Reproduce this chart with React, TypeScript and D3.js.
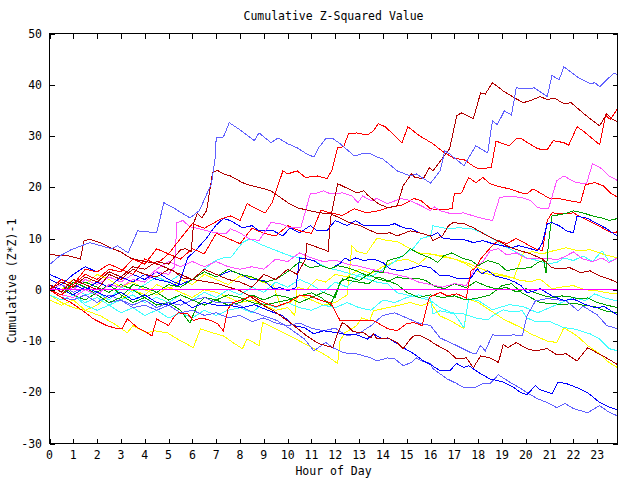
import React from 'react';
import * as d3 from 'd3';

type Pt = [number, number];

const title = 'Cumulative Z-Squared Value';
const xTitle = 'Hour of Day';
const yTitle = 'Cumulative (Z*Z)-1';
const xTicks = [0, 1, 2, 3, 4, 5, 6, 7, 8, 9, 10, 11, 12, 13, 14, 15, 16, 17, 18, 19, 20, 21, 22, 23];
const yTicks = [-30, -20, -10, 0, 10, 20, 30, 40, 50];
const xDomain: [number, number] = [0, 23.85];
const yDomain: [number, number] = [-30, 50];

// series: [hour, cumulative value]
const lightBlueTop: Pt[] = [[0,4.9],[0.4,6.5],[0.9,7.8],[1.7,9.2],[2.6,8.0],[2.85,8.6],[3.3,7.2],[3.7,11.5],[4.5,11.1],[4.8,17.0],[5.2,16],[5.9,14.0],[6.3,15.5],[6.8,20.7],[6.95,25.5],[7.0,29.6],[7.3,29.8],[7.55,32.6],[8.0,31.2],[8.6,29.1],[8.8,30.6],[9.3,28.7],[9.6,29.6],[10.0,28.5],[10.4,27.7],[10.8,26.5],[11.1,25.9],[11.3,27.7],[11.6,29.5],[11.9,29.5],[12.2,28.5],[12.8,26.1],[13.1,26.5],[13.5,26.5],[13.8,25.8],[14.0,25.5],[14.6,23.2],[15.15,22.2],[15.4,22.6],[16.0,20.8],[16.4,23.2],[16.6,27.1],[16.8,26.5],[17.4,24.2],[17.9,28.1],[18.4,26.7],[18.6,33.0],[18.8,32.2],[19.1,34.9],[19.4,34.1],[19.6,39.4],[20.05,39.2],[20.35,39.4],[20.9,37.7],[21.1,41.8],[21.4,41.0],[21.6,43.5],[22.2,41.4],[22.7,40.2],[22.9,40.4],[23.1,39.6],[23.7,42.3],[23.85,42]];
const darkRedTop: Pt[] = [[0,1],[0.5,-0.5],[1,2],[1.5,1],[2,0],[2.5,3],[3,2],[3.5,4],[4,3],[4.5,2.5],[5,4],[5.5,3],[6,2],[6.5,4],[7,3],[7.5,2],[8,1.5],[8.5,0.5],[9,3],[9.5,2],[10,4],[10.4,3],[10.75,6],[10.8,9],[11.3,8.2],[11.7,7.5],[11.8,14],[12.1,20.7],[12.9,18.9],[13.2,19.3],[13.35,18.5],[13.8,16.8],[14.2,16],[14.6,16.4],[14.85,20.3],[15.2,22.6],[15.35,21.9],[15.7,21.7],[15.95,23.8],[16.1,23.2],[16.8,27.5],[17.1,34],[17.3,34.5],[17.8,33.4],[18.1,38.4],[18.3,38.2],[18.6,40.4],[19.05,38.8],[19.5,37.5],[19.9,36.5],[20.3,37.1],[20.6,37.7],[20.9,37.1],[21.2,37.4],[21.6,36.3],[21.9,36.5],[22.4,34.5],[22.8,33.0],[23.1,32.0],[23.4,34.3],[23.6,33.4],[23.85,32.8]];
const redTop: Pt[] = [[0,0],[0.5,-1],[1,1],[1.5,3],[2,2],[2.5,4],[3,3.5],[3.5,6],[4,5],[4.5,8],[5,7],[5.5,10],[6,12.9],[6.5,12],[7.2,13.8],[7.6,14.4],[8.0,13.5],[8.3,16.8],[8.6,16.0],[9.06,15.0],[9.35,17.0],[9.8,23.2],[10.0,22.6],[10.4,23.2],[10.75,21.9],[11.25,22.2],[11.65,21.7],[11.85,23.2],[12.1,27.7],[12.35,27.9],[12.55,30.4],[12.9,30.6],[13.35,30.2],[13.6,31],[13.8,32.4],[14.1,31.8],[14.8,28.7],[15.05,31.8],[15.55,30.0],[16.1,28.5],[16.5,27],[17.0,25.6],[17.4,25.4],[17.9,23.8],[18.2,23.6],[18.55,23.9],[18.75,29.0],[19.3,28.1],[19.6,29.5],[19.8,29.5],[20.5,27.5],[20.9,27.3],[21.15,29.1],[21.6,28.7],[21.8,28.2],[22.15,31.8],[22.4,31.0],[23.1,28.3],[23.35,34.1],[23.55,33.2],[23.85,35.3]];
const darkRedJump: Pt[] = [[0,0],[0.5,1.5],[1,0.5],[1.5,2.5],[2,1.5],[2.5,3.5],[3,2.5],[3.5,4.5],[4,4],[4.5,5.5],[5,5],[5.5,7.8],[5.7,8.0],[5.95,7.5],[6.05,12.9],[6.2,14.9],[6.4,14.0],[6.6,15.5],[6.85,22.9],[7.05,23.3],[7.3,22.6],[7.6,22.2],[8.1,20.9],[8.4,20.4],[9.0,19.7],[9.3,19.3],[10.0,17.0],[10.4,16.0],[10.95,15.4],[11.4,15.0],[11.8,14.8],[12.2,14.0],[12.6,13.1],[13.05,12.5],[13.5,11.5],[13.8,10.9],[14.3,11.1],[14.6,10.5],[15.15,11.5],[15.55,11.1],[16.0,10.5],[16.1,9.6],[16.5,10.5],[16.75,12.5],[16.95,13.1],[17.4,12.9],[17.8,12.1],[18.4,10.5],[18.8,9.6],[19.2,8.6],[19.5,8.0],[20.2,7.0],[20.7,6.0],[21.1,4.3],[21.45,4.1],[21.85,4.3],[22.3,3.3],[22.7,3.7],[23.1,2.7],[23.5,2.1],[23.85,1.4]];
const magentaTop: Pt[] = [[0,0],[0.5,-1],[1,-1.5],[1.5,0],[2,-1],[2.5,1],[3,0.5],[3.5,2],[4,1.5],[4.5,3.5],[5,3],[5.25,4.5],[5.35,13.1],[5.6,13.5],[5.9,12.3],[6.2,12.0],[6.6,11.5],[7.0,11.1],[7.4,10.9],[7.6,11.9],[8.0,11.1],[8.4,9.9],[8.8,9.6],[9.3,13.1],[9.7,12.9],[10.1,12.1],[10.55,12.1],[10.95,18.7],[11.25,18.9],[11.5,19.3],[11.8,18.7],[12.3,18.9],[12.7,18.3],[12.95,17.0],[13.15,18.3],[13.5,17.4],[13.75,17.8],[14.2,16.8],[14.75,17.8],[15.15,17.4],[15.6,16.4],[16.0,15.4],[16.15,16.2],[16.4,15.4],[16.9,14.8],[17.4,15.0],[17.8,14.4],[18.2,13.9],[18.6,13.5],[18.9,18.0],[19.3,18.3],[19.8,18.0],[20.2,17.4],[20.5,16.0],[20.95,15.8],[21.3,21.3],[21.6,22.2],[22.1,20.9],[22.55,20.7],[22.8,24.6],[23.2,23.6],[23.5,22.2],[23.85,21.3]];
const redMid: Pt[] = [[0,0],[0.5,2],[1,1],[1.5,4],[2,3.5],[2.5,5],[3,4],[3.5,3],[4,6],[4.5,5],[5,7],[5.5,6],[6,8],[6.5,7],[7,11],[7.5,10],[8,9],[8.5,12],[9,11],[9.5,10.5],[10,12.5],[10.5,11.5],[11,11],[11.4,15.5],[11.8,15],[12.3,14.5],[12.8,15.8],[13.3,15],[13.8,15.4],[14.2,16],[14.8,16.5],[15.3,17.8],[15.6,17.4],[16.0,15.8],[16.4,15.6],[16.9,15.8],[17.0,18.7],[17.3,18.9],[17.6,21.9],[17.9,20.9],[18.2,21.9],[18.5,20.7],[18.9,20.1],[19.3,19.7],[19.8,18.9],[20.05,18.7],[20.3,19.7],[20.6,18.9],[21.0,17.8],[21.4,17.8],[21.8,17.4],[22.3,17.0],[22.5,20.5],[22.7,20.7],[22.9,20.9],[23.25,20.3],[23.6,18.7],[23.85,18.1]];
const greenTop: Pt[] = [[0,0],[0.5,-1],[1,1.5],[1.5,0.5],[2,-1],[2.5,-2.5],[3,-1.5],[3.5,1],[4,0.5],[4.5,-0.5],[5,1],[5.5,0.5],[6,2],[6.5,3.5],[7,2.5],[7.5,4],[8,3],[8.5,2.5],[9,1.5],[9.5,2],[10,3.5],[10.5,5.5],[10.95,4.3],[11.4,4.7],[11.8,4.1],[12.1,4.7],[12.5,4.3],[12.9,3.7],[13.35,2.7],[13.6,3.7],[14.0,3.3],[14.2,5.7],[14.6,6.2],[14.85,6.6],[15.15,8.0],[15.55,7.0],[16.0,6.2],[16.3,5.3],[16.55,6.6],[16.9,7.2],[17.3,6.2],[17.7,5.7],[18.0,4.7],[18.4,5.7],[18.85,5.1],[19.2,3.7],[19.6,4.1],[20.2,4.3],[20.5,5.3],[20.75,5.7],[20.85,3.3],[20.95,9.0],[21.1,14.4],[21.6,14.8],[22.0,15.4],[22.4,15.0],[22.8,14.4],[23.2,14.0],[23.5,13.5],[23.85,13.9]];
const redLow: Pt[] = [[0,0],[0.5,-1.5],[0.9,-2.5],[1.4,-4.1],[1.85,-5.7],[2.4,-7.0],[2.85,-7.6],[3.05,-7.6],[3.27,-5.7],[3.7,-7.4],[4.1,-8.4],[4.3,-9.0],[4.5,-5.7],[5.0,-7.0],[5.2,-5.5],[5.4,-4.5],[5.8,-4.7],[6.05,-6.0],[6.4,-5.5],[6.76,-6.0],[7.05,-6.6],[7.3,-8.0],[7.5,-3.7],[7.7,-2.5],[8.0,-2.1],[8.5,-1.2],[9.0,-2.5],[9.5,-3.3],[10.0,-2.5],[10.5,-1.2],[10.95,-1.2],[11.4,-2.1],[11.8,-2.5],[12.2,-6.0],[12.5,-6.0],[13.0,-6.0],[13.6,-6.0],[14.2,-7.6],[14.6,-8.0],[15.0,-6.6],[15.3,-6.4],[15.65,-7.0],[15.8,-4.1],[15.95,-1.5],[16.4,-0.5],[16.7,-1.2],[17.1,-0.8],[17.5,-1.6],[17.7,3.7],[17.9,4.3],[18.1,6.0],[18.4,7.6],[18.6,8.6],[18.85,9.6],[19.2,9.0],[19.6,10.0],[20.0,9.0],[20.4,8.0],[20.7,7.6],[20.9,13.5],[21.1,15.0],[21.6,14.8],[22.0,15.0],[22.3,14.2],[22.8,13.1],[23.2,12.1],[23.6,11.1],[23.85,11.3]];
const blueMid: Pt[] = [[0,3],[0.5,2],[1,1],[1.5,0],[2,1.5],[2.5,0.5],[3,2.5],[3.5,1.5],[4,3],[4.5,2],[5,1.5],[5.4,0.7],[5.8,6.2],[6.2,8],[6.6,10.1],[6.97,12.5],[7.3,13.9],[7.6,13.5],[8.1,12.1],[8.5,12.5],[8.8,11.5],[9.4,11.5],[9.8,10.5],[10.1,12.1],[10.5,11.1],[10.95,12.5],[11.25,11.5],[11.65,11.5],[12.0,13.5],[12.5,12.5],[12.85,13.5],[13.2,12.5],[13.6,12.5],[14.2,12.5],[14.5,12.9],[14.85,12.1],[15.2,11.9],[15.55,11.1],[16.0,10.5],[16.3,11.1],[16.5,10.1],[17.0,9.8],[17.4,9.8],[17.8,9.2],[18.2,9.6],[18.6,9.0],[19.0,8.6],[19.4,8.2],[19.7,8.6],[20.2,8.0],[20.5,7.6],[20.7,9.2],[20.9,12.9],[21.1,13.1],[21.4,12.5],[21.7,11.5],[22.0,11.1],[22.15,14.4],[22.6,13.9],[23.0,12.9],[23.4,11.9],[23.7,10.9],[23.85,10.5]];
const blueZero: Pt[] = [[0,2],[0.5,1],[1,3],[1.5,4.5],[2,3.5],[2.5,5],[3,4],[3.5,3],[4,2],[4.5,3.5],[5,2],[5.5,1],[6,2],[6.5,3.5],[7,2.5],[7.6,3.7],[8.0,3.1],[8.4,2.1],[9.0,1.8],[9.4,0.2],[9.7,0.4],[10.0,-0.2],[10.35,0.4],[10.5,6.2],[10.8,6.0],[11.1,5.7],[11.4,4.7],[11.8,4.1],[12.2,5.1],[12.4,6.2],[12.6,5.7],[12.85,6.2],[13.2,5.7],[13.6,6.0],[14.0,5.3],[14.3,4.1],[14.7,3.7],[15.15,4.1],[15.55,4.7],[16.0,4.3],[16.4,2.7],[16.8,2.7],[17.2,2.1],[17.7,2.3],[17.96,4.1],[18.15,3.1],[18.4,3.7],[18.7,2.7],[19.2,2.1],[19.5,1.6],[19.8,0.8],[20.05,-0.6],[20.4,-0.2],[20.6,0.2],[21.1,-1.2],[21.6,-2.1],[22.0,-1.8],[22.4,-2.7],[22.9,-3.5],[23.3,-3.3],[23.85,-4.9]];
const lightBlueLow: Pt[] = [[0,0],[0.5,-1.5],[1,-2],[1.5,-1],[2,-2.5],[2.5,-1],[3,-2],[3.5,-3],[4,-2],[4.5,-3.5],[5,-2.5],[5.5,-3],[6,-2],[6.5,-1.5],[7,-2.5],[7.6,-2.5],[8.0,-3.1],[8.4,-4.1],[9.0,-5.1],[9.55,-6.0],[10.1,-7.6],[10.7,-9.6],[11.1,-11.9],[11.6,-10.3],[11.9,-11.3],[12.35,-12.3],[12.9,-12.5],[13.5,-13.3],[13.75,-13.9],[14.2,-13.3],[14.5,-13.5],[14.85,-14.8],[15.2,-14.2],[15.4,-13.3],[15.65,-13.9],[16.0,-14.4],[16.1,-15.4],[16.7,-17.4],[17.1,-18.3],[17.4,-19.1],[17.85,-19.1],[18.2,-18.3],[18.5,-18.3],[18.85,-16.6],[19.35,-18.1],[19.8,-19.3],[20.05,-20.1],[20.5,-21.3],[20.9,-22.0],[21.3,-23.0],[21.65,-22.2],[22.0,-23.2],[22.6,-24.0],[23.1,-22.6],[23.4,-23.6],[23.65,-24.2],[23.85,-24.6]];
const blueLow: Pt[] = [[0,1],[0.5,0],[1,-1],[1.5,0.5],[2,-0.5],[2.5,-1.5],[3,-0.5],[3.5,-2],[4,-1],[4.5,-2.5],[5,-3],[5.5,-2],[6,-3.5],[6.5,-2.5],[7,-3],[7.6,-3.1],[8.1,-3.5],[8.6,-2.9],[9.0,-3.7],[9.8,-5.1],[10.25,-7.0],[10.7,-7.4],[11.1,-8.6],[11.5,-8.0],[12.1,-8.4],[12.5,-8.8],[12.9,-8.8],[13.35,-9.6],[13.6,-8.6],[13.9,-9.4],[14.3,-9.6],[14.85,-11.3],[15.3,-12.5],[15.7,-13.9],[16.0,-14.6],[16.4,-15.8],[16.8,-15.8],[17.1,-14.4],[17.4,-15.2],[17.6,-14.8],[18.1,-16.4],[18.5,-17.4],[19.05,-18.0],[19.5,-19.1],[19.8,-20.1],[20.05,-20.5],[20.4,-18.7],[20.6,-19.5],[21.1,-20.3],[21.35,-18.0],[21.7,-18.3],[22.15,-19.1],[22.6,-20.1],[23.1,-22.0],[23.55,-23.0],[23.85,-23.4]];
const yellowLow: Pt[] = [[0,-1],[0.5,-2.5],[1,-3.5],[1.5,-4],[2.14,-5.1],[2.7,-6.6],[3.27,-8.4],[3.5,-7],[4.1,-8.4],[4.4,-8.0],[4.95,-8.4],[5.37,-9.6],[6.04,-11.3],[6.34,-7.6],[6.7,-8.2],[7.3,-9.0],[7.7,-10.3],[8.1,-11.5],[8.3,-9.6],[8.8,-10.9],[8.95,-6.4],[9.5,-7.6],[10.1,-9.0],[10.7,-10.5],[11.1,-11.5],[11.65,-12.9],[12.1,-14.4],[12.2,-10.0],[12.4,-8.4],[12.9,-7.0],[13.1,-5.5],[13.45,-6.0],[13.6,-4.1],[14.2,-3.5],[14.6,-3.1],[15.15,-2.5],[15.6,-3.1],[16.0,-2.5],[16.4,-5.1],[16.9,-6.2],[17.4,-7.6],[17.6,-1.8],[18.0,-2.5],[18.4,-3.7],[19.05,-5.7],[19.8,-7.4],[20.2,-8.6],[20.9,-10.0],[21.3,-10.3],[21.6,-7.4],[22.15,-9.0],[22.6,-10.9],[23.1,-12.5],[23.4,-13.9],[23.85,-15.2]];
const darkRedLow: Pt[] = [[0,7],[0.4,6.6],[0.8,6.6],[1.3,6.0],[1.45,9.6],[1.7,9.8],[2.14,9.2],[2.56,8.2],[2.98,7.4],[3.4,6.2],[3.8,5.7],[4.5,5.1],[5.2,3.7],[5.6,2.3],[6.3,1.8],[7.05,1.2],[7.6,0.4],[8.0,-0.2],[8.4,-1.2],[9.0,-3.1],[9.4,-4.1],[10.1,-6.4],[10.8,-9.0],[11.3,-10.5],[11.9,-11.3],[12.1,-8.4],[12.3,-6.4],[12.5,-7.0],[12.75,-8.2],[13.2,-8.4],[13.5,-9.4],[13.6,-8.6],[13.75,-9.6],[14.2,-9.4],[14.6,-10.3],[14.85,-11.5],[15.15,-9.6],[15.3,-9.0],[15.6,-9.0],[16.0,-10.0],[16.1,-10.4],[16.7,-11.9],[17.1,-13.5],[17.5,-13.3],[17.8,-15.2],[18.1,-12.9],[18.5,-13.3],[18.85,-14.2],[19.05,-10.7],[19.25,-11.3],[19.6,-10.3],[20.05,-11.5],[20.4,-11.9],[20.9,-11.5],[21.3,-12.7],[21.7,-12.5],[22.15,-13.9],[22.6,-11.3],[23.1,-12.6],[23.5,-13.6],[23.85,-14.6]];
const cyanLow: Pt[] = [[0,0],[0.5,1.5],[1,0.5],[1.5,-1],[2,-0.5],[2.5,-2],[3,0.5],[3.5,-0.5],[4,1],[4.5,2.5],[5,1.5],[5.5,3],[6,2],[6.5,4],[6.97,5.7],[7.3,6.2],[7.6,6.2],[8.1,9.2],[8.4,9.9],[9.0,8.6],[9.55,7.6],[10.1,6.6],[10.6,6.2],[11.1,5.7],[11.65,4.3],[12.2,3.7],[12.8,2.9],[13.35,2.1],[13.8,1.4],[14.2,1.2],[14.6,-0.6],[15.0,-1.0],[15.5,-1.5],[16.0,-2.1],[16.4,-3.5],[16.9,-4.5],[17.4,-4.7],[17.9,-5.5],[18.4,-5.9],[18.6,-5.1],[19.05,-3.9],[19.4,-4.3],[19.85,-4.1],[20.05,-5.5],[20.4,-6.2],[21.0,-6.2],[21.6,-7.4],[22.0,-7.6],[22.7,-8.6],[23.1,-9.6],[23.5,-11.5],[23.85,-11.9]];
const cyanTop: Pt[] = [[0,1],[0.5,0],[1,-1],[1.5,-2.5],[2,-1.5],[2.5,-3],[3,-2],[3.5,-1],[4,-2.5],[4.5,-1.5],[5,-2.5],[5.5,-1],[6,-2],[6.5,-0.5],[7,-1.5],[7.5,0],[8,-1],[8.5,0.5],[9,-0.5],[9.5,1.5],[10,0.5],[10.5,2],[11,1],[11.5,-0.5],[12,1.5],[12.5,0.5],[13,3],[13.5,2.5],[14,4],[14.5,5.5],[15.0,7.2],[15.3,8.2],[15.6,10.0],[16.0,10.5],[16.1,12.5],[16.7,11.9],[17.2,12.1],[17.7,11.9],[18.2,11.1],[18.6,10.0],[19.05,8.6],[19.5,7.6],[20.05,6.2],[20.5,5.7],[20.9,5.1],[21.3,5.3],[21.6,6.2],[22.0,5.7],[22.4,6.6],[22.8,5.5],[23.2,7.6],[23.5,5.5],[23.85,6.2]];
const cyanZero: Pt[] = [[0,-1],[0.5,-2],[1,-1],[1.5,-3],[2,-4],[2.5,-3],[3,-4.5],[3.5,-3.5],[4,-5],[4.5,-4],[5,-5.5],[5.5,-4.5],[6,-5.5],[6.5,-4],[7,-5],[7.5,-4],[8,-3.5],[8.5,-4.5],[9,-2.5],[9.5,-3.5],[10,-2.5],[10.5,-3.5],[11,-4],[11.5,-3],[12,-3.5],[12.5,-2.5],[13,-3.5],[13.5,-4],[14,-2],[14.5,-2.5],[15,-1.5],[15.5,-1],[16.0,-1.8],[16.1,-4.7],[16.4,-4.1],[17.0,-4.7],[17.4,-7.4],[17.6,-1.8],[18.0,-2.1],[18.6,-3.9],[19.3,-2.9],[19.9,-3.3],[20.5,-4.5],[21.0,-3.5],[21.5,-2.5],[22.0,-1.5],[22.5,-2.1],[22.9,-0.8],[23.3,-1.6],[23.85,-2.2]];
const lightBlueMid: Pt[] = [[0,2],[0.5,1],[1,-0.5],[1.5,0.5],[2,-1],[2.5,-2.5],[3,-2],[3.5,-3.5],[4,-3],[4.5,-4],[5,-3],[5.5,-4.5],[6,-4],[6.5,-5],[7,-4.5],[7.5,-5.5],[8,-5],[8.5,-6.2],[9,-5.5],[9.5,-6.5],[10,-7],[10.5,-6.5],[11,-7.5],[11.5,-8],[12,-7.5],[12.5,-9],[13,-8.5],[13.5,-7],[14,-5],[14.5,-4.5],[15,-5.5],[15.5,-6.5],[16.0,-7.0],[16.4,-9.4],[17.1,-10.9],[17.7,-12.3],[17.9,-12.5],[18.1,-10.9],[18.3,-11.9],[18.6,-8.8],[19.0,-9.0],[19.5,-8.8],[19.85,-9.0],[20.05,-5.1],[20.4,-2.2],[20.9,-1.7],[21.7,-2.2],[22.2,-4.1],[22.4,-3.2],[23.0,-4.9],[23.4,-7.0],[23.85,-7.6]];
const yellowTop: Pt[] = [[0,-2],[0.5,-3],[1,-2],[1.5,-4],[2,-3],[2.5,-1],[3,-2],[3.5,0],[4,-1],[4.5,1],[5,0],[5.5,2],[6,1],[6.5,3],[7,2],[7.5,1],[8,2.7],[8.5,2.4],[9.0,1.4],[9.4,0.8],[9.7,-3],[10.1,-2.5],[10.5,-1],[11,-2],[11.5,-3],[12,-2.5],[12.5,-1],[12.7,8.6],[12.9,7.5],[13.3,7.0],[13.75,10.1],[14.2,9.6],[14.6,9.4],[15.15,8.0],[15.5,7.2],[16.0,7.0],[16.5,6.4],[17.0,6.0],[17.5,5.0],[18.0,3.5],[18.5,3.0],[19.0,2.7],[19.5,2.3],[19.9,7.2],[20.3,7.4],[20.7,7.0],[21.15,7.6],[21.7,8.2],[22.2,7.6],[22.7,7.8],[23.2,7.0],[23.85,6.2]];
const yellowZero: Pt[] = [[0,1],[0.5,0],[1,2],[1.5,1],[2,3],[2.5,2],[3,0.5],[3.5,1.5],[4,0],[4.5,-1],[5,0.5],[5.5,-0.5],[6,-1.5],[6.5,0],[7,-0.5],[7.5,-1.5],[8,-2.5],[8.5,-2],[9,-3],[9.5,-4],[10,-3.5],[10.3,-5],[10.4,0.5],[10.8,0],[11.2,2],[11.6,1.5],[12,3],[12.5,2.5],[13,4],[13.5,3.2],[14,4.5],[14.5,5.5],[15,6],[15.5,5],[16.0,7.0],[16.5,6.6],[17.0,6.0],[17.5,5.3],[18.0,4.3],[18.6,3.3],[19.2,2.7],[19.8,1.8],[20.2,1.6],[20.6,2.1],[21.1,0.2],[21.6,0.6],[22.0,0.8],[22.5,0.0],[23.0,-0.2],[23.4,-0.6],[23.85,-0.8]];
const greenLow: Pt[] = [[0,0],[0.5,1],[1,-1],[1.5,-2],[2,-0.5],[2.5,1],[3,-1],[3.5,-2.5],[4,-1.5],[4.5,-3],[5,-2.5],[5.5,-4],[5.9,-6.5],[6.2,-3],[6.5,-1.5],[7,-2],[7.5,-1],[8,-1.5],[8.5,-2.5],[9,-3],[9.5,-2.5],[10,-2],[10.5,-1.2],[11,-0.6],[11.4,-1.5],[11.8,-3.0],[12.0,-0.8],[12.3,2.1],[12.8,1.6],[13.4,1.2],[13.8,2.5],[14.2,1.8],[14.6,1.0],[15.0,-0.5],[15.5,-1.5],[16.0,-1.0],[16.5,-1.5],[17.0,-1.2],[17.5,-2.0],[18.0,-1.6],[18.5,-1.0],[19.0,0.8],[19.4,1.2],[19.8,-0.5],[20.2,-1.5],[20.6,-2.5],[21.1,-2.7],[21.6,-2.9],[22.0,-2.6],[22.4,-3.0],[22.9,-3.3],[23.3,-4.1],[23.85,-4.5]];
const greenZero: Pt[] = [[0,0],[0.5,-1],[1,0.5],[1.5,1.5],[2,0.5],[2.5,-0.5],[3,1],[3.5,0],[4,-1.5],[4.5,-0.5],[5,-2],[5.5,-1],[6,-2],[6.5,-3],[7,-2],[7.5,-3],[8,-2.5],[8.5,-1],[9,-2],[9.5,-1],[10,-1.5],[10.5,-2.5],[11,-1.5],[11.5,-0.5],[12,-1.5],[12.2,1.5],[12.6,2.5],[13.0,1.8],[13.4,3.0],[13.8,2.1],[14.2,1.6],[14.6,2.5],[15.0,2.1],[15.4,2.3],[15.8,1.8],[16.2,0.6],[16.6,0.2],[17.0,1.2],[17.5,0.4],[17.9,1.6],[18.3,0.8],[18.7,0.2],[19.2,0.4],[19.6,-0.4],[20.0,0.2],[20.4,-0.6],[20.8,-1.2],[21.1,-1.5],[21.5,-1.2],[21.9,-1.4],[22.2,-1.8],[22.6,-1.6],[23.0,-2.5],[23.4,-3.0],[23.85,-3.5]];
const magentaLow: Pt[] = [[0,0],[0.5,1],[1,0],[1.5,2],[2,1],[2.5,2.5],[3,1.5],[3.5,3],[4,2],[4.5,4],[5,5.5],[5.5,4.5],[6,5.5],[6.5,4.5],[7,5.5],[7.5,4.5],[8,4],[8.5,4.5],[9,4],[9.5,6],[10,5.5],[10.5,7.2],[11,6.2],[11.5,5.5],[12,5.8],[12.5,5.0],[13,4.6],[13.5,4.0],[14,3.5],[14.5,3.0],[15,2.5],[15.5,1.5],[16,1.0],[16.5,0.5],[17,1.2],[17.5,0.8],[17.9,4.5],[18.2,5.5],[18.5,7.6],[18.85,8.0],[19.2,6.8],[19.6,7.2],[20.0,6.2],[20.5,6.0],[20.9,6.2],[21.3,5.8],[21.7,6.6],[22.0,7.4],[22.4,6.0],[22.8,5.5],[23.2,6.2],[23.5,5.3],[23.85,6.2]];
const zeroLine: Pt[] = [[0,0],[23.85,0]];

const RED = '#ff0000';
const DARKRED = '#b00000';
const BLUE = '#0000ff';
const LBLUE = '#6060ff';
const MAGENTA = '#ff50ff';
const CYAN = '#40ffff';
const YELLOW = '#ffff00';
const GREEN = '#00a000';
const ZERO = '#ff00ff';

const seriesList: { data: Pt[]; color: string }[] = [
  { data: yellowZero, color: YELLOW },
  { data: yellowTop, color: YELLOW },
  { data: yellowLow, color: YELLOW },
  { data: cyanZero, color: CYAN },
  { data: cyanLow, color: CYAN },
  { data: cyanTop, color: CYAN },
  { data: greenZero, color: GREEN },
  { data: greenLow, color: GREEN },
  { data: magentaLow, color: MAGENTA },
  { data: lightBlueMid, color: LBLUE },
  { data: lightBlueLow, color: LBLUE },
  { data: blueLow, color: BLUE },
  { data: blueZero, color: BLUE },
  { data: darkRedLow, color: DARKRED },
  { data: redLow, color: RED },
  { data: greenTop, color: GREEN },
  { data: blueMid, color: BLUE },
  { data: redMid, color: RED },
  { data: magentaTop, color: MAGENTA },
  { data: darkRedJump, color: DARKRED },
  { data: redTop, color: RED },
  { data: darkRedTop, color: DARKRED },
  { data: lightBlueTop, color: LBLUE },
];

const W = 640;
const H = 480;
const left = 49.5;
const right = 617.5;
const top = 33.5;
const bottom = 443.5;
const FONT = 'DejaVu Sans Mono, monospace';

export default function App() {
  const x = d3.scaleLinear().domain(xDomain).range([left, right]);
  const y = d3.scaleLinear().domain(yDomain).range([bottom, top]);
  const line = d3.line<Pt>().x((d) => x(d[0])).y((d) => y(d[1]));
  const zx0 = x(zeroLine[0][0]);
  const zx1 = x(zeroLine[1][0]);
  const zy = Math.floor(y(zeroLine[0][1])) + 0.5;
  const tl = 5;
  return (
    <svg width={W} height={H} style={{ position: 'fixed', left: 0, top: 0, background: '#fff' }}>
      <rect x={0} y={0} width={W} height={H} fill="#fff" />
      <g fill="none" strokeWidth={1} shapeRendering="crispEdges">
        {seriesList.map((s, i) => (
          <path key={i} d={line(s.data) || ''} stroke={s.color} />
        ))}
      </g>
      <line x1={zx0} x2={zx1} y1={zy} y2={zy} stroke={ZERO} strokeWidth={1} shapeRendering="crispEdges" />
      <g stroke="#000" strokeWidth={1} shapeRendering="crispEdges">
        <rect x={left} y={top} width={right - left} height={bottom - top} fill="none" />
        {xTicks.map((t) => (
          <g key={'xt' + t}>
            <line x1={Math.round(x(t)) + 0.5} x2={Math.round(x(t)) + 0.5} y1={bottom} y2={bottom - tl} />
            <line x1={Math.round(x(t)) + 0.5} x2={Math.round(x(t)) + 0.5} y1={top} y2={top + tl} />
          </g>
        ))}
        {yTicks.map((t) => (
          <g key={'yt' + t}>
            <line x1={left} x2={left + tl} y1={Math.round(y(t)) + 0.5} y2={Math.round(y(t)) + 0.5} />
            <line x1={right} x2={right - tl} y1={Math.round(y(t)) + 0.5} y2={Math.round(y(t)) + 0.5} />
          </g>
        ))}
      </g>
      <g fontFamily={FONT} fontSize={11.5} fill="#000">
        {xTicks.map((t) => (
          <text key={'xl' + t} x={x(t)} y={459} textAnchor="middle">{t}</text>
        ))}
        {yTicks.map((t) => (
          <text key={'yl' + t} x={42} y={y(t) + 4} textAnchor="end">{t}</text>
        ))}
        <text x={(left + right) / 2} y={20} textAnchor="middle">{title}</text>
        <text x={(left + right) / 2} y={475} textAnchor="middle">{xTitle}</text>
        <text transform={`translate(16,281) rotate(-90)`} textAnchor="middle">{yTitle}</text>
      </g>
    </svg>
  );
}
